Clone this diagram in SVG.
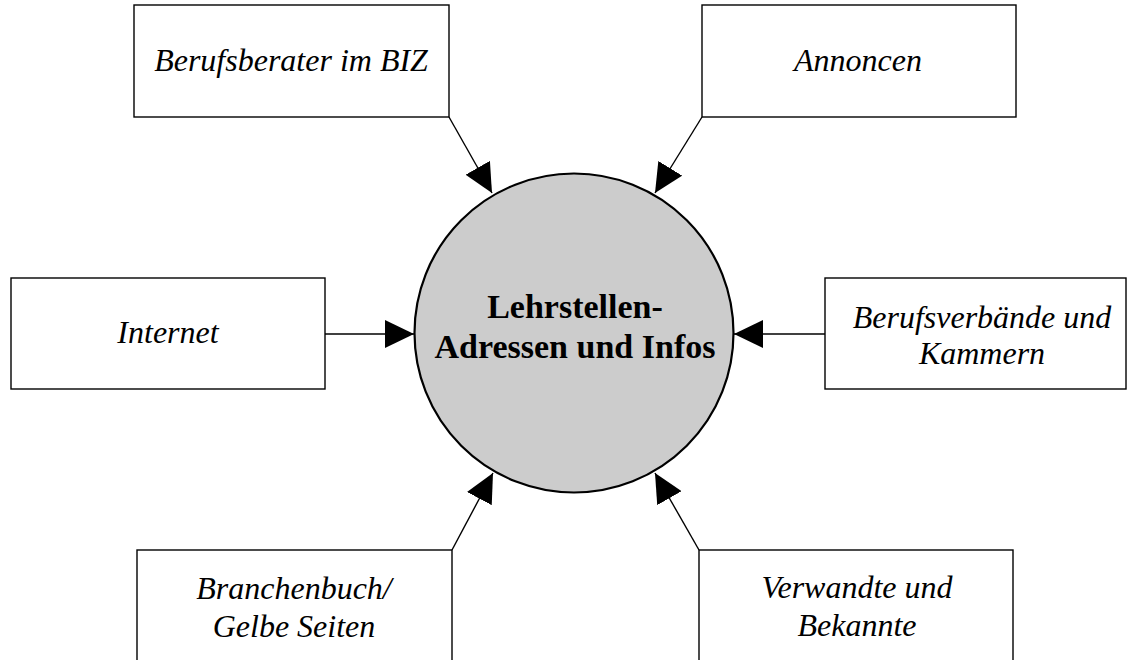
<svg xmlns="http://www.w3.org/2000/svg" width="1130" height="660" viewBox="0 0 1130 660">
  <style>
    .box { fill: #ffffff; stroke: #000000; stroke-width: 1.4; }
    .lbl { font-family: "Liberation Serif", "Times New Roman", serif; font-style: italic; font-size: 32px; fill: #000000; text-anchor: middle; }
    .center { font-family: "Liberation Serif", "Times New Roman", serif; font-weight: bold; font-size: 34px; fill: #000000; text-anchor: middle; }
    .conn { stroke: #000000; stroke-width: 1.4; fill: none; marker-end: url(#arrow); }
  </style>
  <defs>
    <marker id="arrow" markerUnits="userSpaceOnUse" markerWidth="30" markerHeight="28" refX="29" refY="14" orient="auto" viewBox="0 0 30 28">
      <path d="M0,0 L29,14 L0,28 Z" fill="#000000"/>
    </marker>
  </defs>
  <rect width="1130" height="660" fill="#ffffff"/>

  <g id="hub">
    <circle cx="574" cy="333" r="159.5" fill="#cccccc" stroke="#000000" stroke-width="2.2"/>
    <text class="center" x="575" y="318">Lehrstellen-</text>
    <text class="center" x="575" y="358">Adressen und Infos</text>
  </g>

  <g id="node-berufsberater">
    <rect class="box" x="134" y="5" width="315" height="112"/>
    <text class="lbl" x="291" y="71">Berufsberater im BIZ</text>
  </g>

  <g id="node-annoncen">
    <rect class="box" x="702" y="5" width="314" height="112"/>
    <text class="lbl" x="858" y="71">Annoncen</text>
  </g>

  <g id="node-internet">
    <rect class="box" x="11" y="278" width="314" height="111"/>
    <text class="lbl" x="168" y="343">Internet</text>
  </g>

  <g id="node-berufsverbaende">
    <rect class="box" x="825" y="278" width="301" height="111"/>
    <text class="lbl" x="982" y="328">Berufsverbände und</text>
    <text class="lbl" x="982" y="364">Kammern</text>
  </g>

  <g id="node-branchenbuch">
    <rect class="box" x="137" y="550" width="315" height="120"/>
    <text class="lbl" x="294" y="599">Branchenbuch/</text>
    <text class="lbl" x="294" y="637">Gelbe Seiten</text>
  </g>

  <g id="node-verwandte">
    <rect class="box" x="699" y="550" width="314" height="120"/>
    <text class="lbl" x="857" y="598">Verwandte und</text>
    <text class="lbl" x="857" y="636">Bekannte</text>
  </g>

  <g id="connectors">
    <line class="conn" x1="449" y1="117" x2="492" y2="193"/>
    <line class="conn" x1="702" y1="117" x2="655" y2="193"/>
    <line class="conn" x1="325" y1="334" x2="414" y2="334"/>
    <line class="conn" x1="825" y1="334" x2="734" y2="334"/>
    <line class="conn" x1="452" y1="550" x2="493" y2="473"/>
    <line class="conn" x1="699" y1="550" x2="655" y2="473"/>
  </g>
</svg>
